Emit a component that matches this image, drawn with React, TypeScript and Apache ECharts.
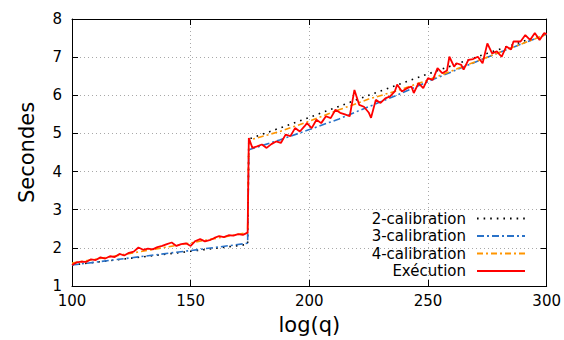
import React, { useEffect, useRef } from "react";
import * as echarts from "echarts";

const FONT = "DejaVu Sans";

const seriesNames = ["2-calibration", "3-calibration", "4-calibration", "Exécution"];

const cal2: [number, number][] = [
  [100, 1.55], [125, 1.73], [150, 1.91], [174, 2.09], [174.5, 4.85],
  [200, 5.42], [225, 6.0], [250, 6.56], [275, 7.1], [300, 7.62],
];

const cal3: [number, number][] = [
  [100, 1.55], [125, 1.74], [150, 1.93], [174, 2.12], [174.5, 4.57],
  [187.5, 4.83], [200, 5.1], [212.5, 5.38], [225, 5.7], [237.5, 6.02],
  [250, 6.36], [262.5, 6.68], [275, 7.0], [287.5, 7.3], [300, 7.6],
];

const cal4: [number, number][] = [
  [100, 1.6], [125, 1.86], [150, 2.13], [174, 2.4], [174.5, 4.82],
  [187.5, 5.05], [200, 5.32], [212.5, 5.62], [225, 5.9], [237.5, 6.13],
  [250, 6.4], [262.5, 6.7], [275, 7.0], [287.5, 7.3], [300, 7.6],
];

const execution: [number, number][] = [
  [100, 1.55], [102, 1.62], [104, 1.64], [106, 1.63], [108, 1.7], [110, 1.68],
  [112, 1.75], [114, 1.72], [116, 1.78], [118, 1.76], [120, 1.84], [122, 1.8],
  [124, 1.87], [126, 1.9], [128, 2.01], [130, 1.95], [132, 1.98], [134, 1.96],
  [136, 2.02], [138, 2.05], [140, 2.1], [142, 2.14], [144, 2.05], [146, 2.1],
  [148, 2.12], [150, 2.05], [152, 2.18], [154, 2.23], [156, 2.17], [158, 2.2],
  [160, 2.26], [162, 2.31], [164, 2.28], [166, 2.33], [168, 2.32], [170, 2.36],
  [172, 2.34], [174, 2.4],
  [174.5, 4.88], [176, 4.62], [178, 4.66], [180, 4.71], [182, 4.62], [184, 4.72],
  [186, 4.79], [188, 4.75], [190, 4.97], [192, 4.93], [194, 5.14], [196, 5.05],
  [198, 5.19], [199, 5.27], [201, 5.14], [203, 5.36], [205, 5.27], [207, 5.45],
  [209, 5.4], [211, 5.62], [213, 5.54], [215, 5.5], [217, 5.45], [219, 6.14],
  [221, 5.75], [223, 5.7], [225, 5.55], [226, 5.41], [228, 5.88], [230, 5.8],
  [232, 5.92], [234, 5.97], [236, 6.1], [237, 6.28], [239, 6.1], [241, 6.18],
  [243, 6.23], [244, 6.06], [246, 6.32], [248, 6.19], [250, 6.45], [252, 6.4],
  [254, 6.71], [256, 6.58], [258, 6.65], [259, 7.01], [261, 6.75], [262, 6.84],
  [264, 6.8], [265, 6.67], [267, 6.93], [269, 6.95], [271, 7.01], [273, 6.84],
  [275, 7.36], [277, 7.1], [279, 7.15], [281, 7.01], [283, 7.28], [285, 7.2],
  [286, 7.41], [289, 7.41], [291, 7.58], [293, 7.45], [295, 7.63], [297, 7.45],
  [299, 7.63], [300, 7.6],
];

const xName = "log(q)";
const yName = "Secondes";

export default function App() {
  const ref = useRef<HTMLDivElement>(null);
  useEffect(() => {
    const chart = echarts.init(ref.current!, null, { renderer: "svg" });
    const axisLine = { show: true, onZero: false, lineStyle: { color: "#000", width: 1 } };
    const tick = { show: true, inside: true, length: 6, lineStyle: { color: "#000", width: 1 } };
    const grid = { show: true, lineStyle: { color: "#a8a8a8", width: 1, type: [1, 3] } };
    const label = { color: "#000", fontSize: 15, fontFamily: FONT };
    chart.setOption({
      animation: false,
      backgroundColor: "#fff",
      grid: { left: 72, right: 16, top: 19, bottom: 53 },
      xAxis: [
        {
          type: "value", min: 100, max: 300, interval: 50, position: "bottom",
          axisLine, axisTick: tick, splitLine: grid,
          axisLabel: { ...label, margin: 7 },
          name: xName, nameLocation: "middle", nameGap: 28,
          nameTextStyle: { color: "#000", fontSize: 21, fontFamily: FONT },
        },
        {
          type: "value", min: 100, max: 300, interval: 50, position: "top",
          axisLine, axisTick: tick, splitLine: { show: false }, axisLabel: { show: false },
        },
      ],
      yAxis: [
        {
          type: "value", min: 1, max: 8, interval: 1, position: "left",
          axisLine, axisTick: tick, splitLine: grid,
          axisLabel: { ...label, margin: 10 },
          name: yName, nameLocation: "middle", nameGap: 35,
          nameTextStyle: { color: "#000", fontSize: 21, fontFamily: FONT },
        },
        {
          type: "value", min: 1, max: 8, interval: 1, position: "right",
          axisLine, axisTick: tick, splitLine: { show: false }, axisLabel: { show: false },
        },
      ],
      legend: {
        orient: "vertical", right: 38, top: 211, align: "right", padding: 0,
        itemWidth: 48, itemHeight: 14, itemGap: 2.5,
        itemStyle: { opacity: 0 },
        textStyle: { color: "#000", fontSize: 15, fontFamily: FONT, padding: [0, 6, 0, 0] },
        data: seriesNames,
      },
      series: [
        {
          name: seriesNames[0], type: "line", symbol: "none", data: cal2,
          lineStyle: { color: "#000", width: 1.6, type: [1.6, 5] }, itemStyle: { color: "#000" },
        },
        {
          name: seriesNames[1], type: "line", symbol: "none", data: cal3,
          lineStyle: { color: "#2a72c8", width: 1.6, type: [7, 3, 2, 3] }, itemStyle: { color: "#2a72c8" },
        },
        {
          name: seriesNames[2], type: "line", symbol: "none", data: cal4,
          lineStyle: { color: "#ff9500", width: 1.6, type: [6, 3, 2, 3] }, itemStyle: { color: "#ff9500" },
        },
        {
          name: seriesNames[3], type: "line", symbol: "none", data: execution,
          lineStyle: { color: "#ff0000", width: 1.8, type: "solid" }, itemStyle: { color: "#ff0000" },
        },
      ],
    });
    return () => chart.dispose();
  }, []);
  return <div ref={ref} style={{ position: "fixed", left: 0, top: 0, width: 564, height: 340 }} />;
}
